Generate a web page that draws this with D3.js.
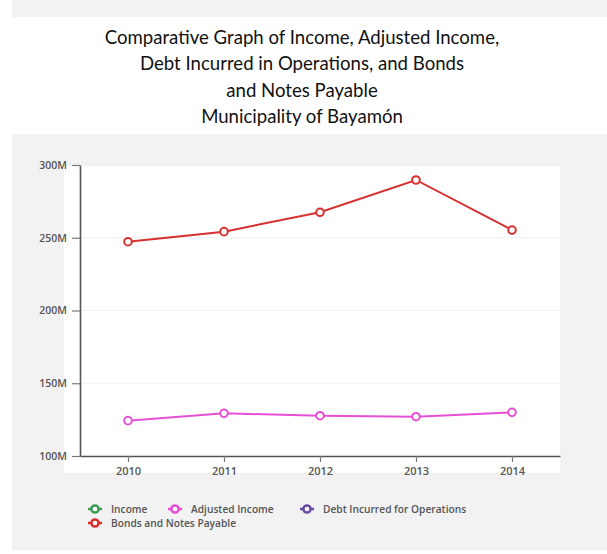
<!DOCTYPE html>
<html>
<head>
<meta charset="utf-8">
<script src="https://cdn.jsdelivr.net/npm/d3@7"></script>
<style>
  html, body { margin: 0; padding: 0; background: #ffffff; }
  svg { display: block; }
</style>
</head>
<body>
<div id="chart"></div>
<script>
// Fiscal years on the x axis
const years = ["2010", "2011", "2012", "2013", "2014"];

// Series values, in millions of dollars
const incomeValues = [];
const adjustedIncomeValues = [124.3, 129.3, 127.7, 127.0, 130.0];
const debtOperationsValues = [];
const bondsNotesValues = [247.3, 254.2, 267.5, 289.7, 255.3];

// Y axis ticks (millions)
const yTicks = [100, 150, 200, 250, 300];

const titleLines = [
  "Comparative Graph of Income, Adjusted Income,",
  "Debt Incurred in Operations, and Bonds",
  "and Notes Payable",
  "Municipality of Bayamón"
];

const series = [
  { name: "Income", color: "#3d9a57", values: incomeValues },
  { name: "Adjusted Income", color: "#e64fd4", values: adjustedIncomeValues },
  { name: "Debt Incurred for Operations", color: "#6b4ba6", values: debtOperationsValues },
  { name: "Bonds and Notes Payable", color: "#d7312f", values: bondsNotesValues }
];

const W = 607, H = 554;
const svg = d3.select("#chart").append("svg").attr("width", W).attr("height", H);

// Background panels
svg.append("rect").attr("x", 12).attr("y", 0).attr("width", W - 12).attr("height", 17).attr("fill", "#f2f2f2");
svg.append("rect").attr("x", 12).attr("y", 134).attr("width", W - 12).attr("height", 416).attr("fill", "#f2f2f2");

// Title
const title = svg.append("g").attr("font-family", "Lato, 'Open Sans', sans-serif")
  .attr("font-size", 18.6).attr("fill", "#111").attr("text-anchor", "middle");
titleLines.forEach((t, i) => {
  title.append("text").attr("x", 302).attr("y", 43.5 + i * 26.5).text(t);
});

// Plot area
const plot = { left: 80, right: 560, top: 165, bottom: 456 };
svg.append("rect").attr("x", 64).attr("y", 166).attr("width", 496).attr("height", 307).attr("fill", "#ffffff");

const x = d3.scalePoint().domain(years).range([plot.left, plot.right]).padding(0.5);
const y = d3.scaleLinear().domain([100, 300]).range([plot.bottom, plot.top]);

// Horizontal gridlines
svg.append("g").selectAll("line").data(yTicks.slice(1, -1)).join("line")
  .attr("x1", plot.left).attr("x2", plot.right)
  .attr("y1", d => y(d)).attr("y2", d => y(d))
  .attr("stroke", "#f1f1f1").attr("stroke-width", 1);

const axisFont = "'Open Sans', sans-serif";

// Y axis
const yAxis = svg.append("g").attr("transform", `translate(${plot.left},0)`)
  .call(d3.axisLeft(y).tickValues(yTicks).tickFormat(d => d + "M").tickSize(8).tickSizeOuter(0));
yAxis.select(".domain").attr("stroke", "#555").attr("stroke-width", 1.6);
yAxis.selectAll(".tick line").attr("stroke", "#777").attr("stroke-width", 1.2);
yAxis.selectAll(".tick text").attr("font-family", axisFont).attr("font-size", 10.5)
  .attr("font-weight", 600).attr("fill", "#555").attr("x", -13);

// X axis
const xAxis = svg.append("g").attr("transform", `translate(0,${plot.bottom})`)
  .call(d3.axisBottom(x).tickSize(6).tickSizeOuter(0));
xAxis.select(".domain").attr("stroke", "#555").attr("stroke-width", 1.6);
xAxis.selectAll(".tick line").attr("stroke", "#777").attr("stroke-width", 1.2);
xAxis.selectAll(".tick text").attr("font-family", axisFont).attr("font-size", 11)
  .attr("font-weight", 600).attr("fill", "#555").attr("y", 11);

// Lines and markers
const line = d3.line().x((d, i) => x(years[i])).y(d => y(d));
series.filter(s => s.values.length).forEach(s => {
  svg.append("path").datum(s.values).attr("d", line)
    .attr("fill", "none").attr("stroke", s.color).attr("stroke-width", 2);
  svg.append("g").selectAll("circle").data(s.values).join("circle")
    .attr("cx", (d, i) => x(years[i])).attr("cy", d => y(d)).attr("r", 3.8)
    .attr("fill", "#fff").attr("stroke", s.color).attr("stroke-width", 2);
});

// Legend
const legendPos = [[95, 509], [175, 509], [307, 509], [95, 523]];
const legend = svg.append("g");
series.forEach((s, i) => {
  const [lx, ly] = legendPos[i];
  const g = legend.append("g").attr("transform", `translate(${lx},${ly})`);
  g.append("line").attr("x1", -7).attr("x2", 7).attr("y1", 0).attr("y2", 0)
    .attr("stroke", s.color).attr("stroke-width", 2.5);
  g.append("circle").attr("r", 3.6).attr("fill", "#fff").attr("stroke", s.color).attr("stroke-width", 2.5);
  g.append("text").attr("x", 16).attr("y", 3.8).attr("font-family", axisFont)
    .attr("font-size", 10.2).attr("font-weight", 600).attr("fill", "#555").text(s.name);
});
</script>
</body>
</html>
